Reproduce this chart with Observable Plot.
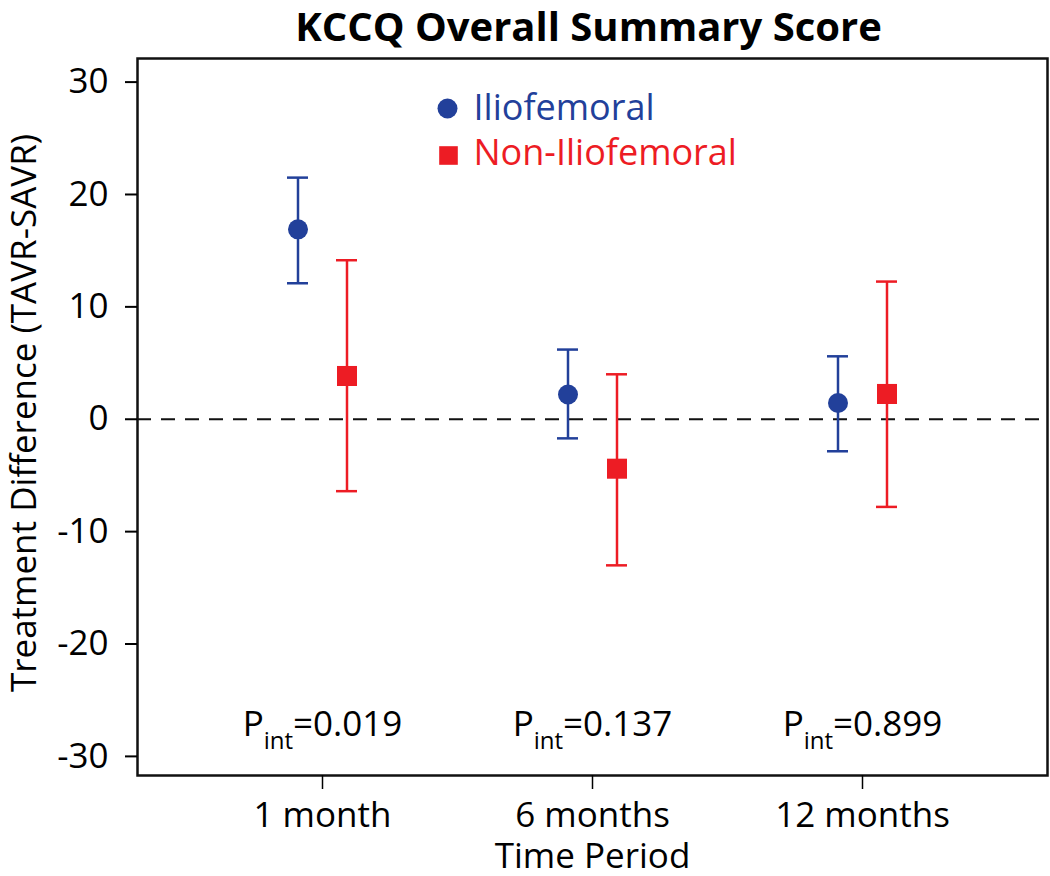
<!DOCTYPE html>
<html><head><meta charset="utf-8">
<script src="https://cdn.jsdelivr.net/npm/d3@7"></script>
<script src="https://cdn.jsdelivr.net/npm/@observablehq/plot@0.6"></script>
<style>body{margin:0;background:#fff;}</style>
</head><body><div id="chart"></div>
<script>
const periods = ["1 month", "6 months", "12 months"];
const groups = ["Iliofemoral", "Non-Iliofemoral"];
const ilioMean = [16.9, 2.2, 1.45];
const ilioLow = [12.1, -1.7, -2.85];
const ilioHigh = [21.5, 6.2, 5.6];
const nonMean = [3.85, -4.4, 2.25];
const nonLow = [-6.4, -13.0, -7.8];
const nonHigh = [14.15, 4.0, 12.25];
const pInt = ["0.019", "0.137", "0.899"];
const yTicks = [-30, -20, -10, 0, 10, 20, 30];
const colors = ["#22409a", "#ed1c24"];

const ilio = periods.map((p, i) => ({period: p, mean: ilioMean[i], lo: ilioLow[i], hi: ilioHigh[i]}));
const non = periods.map((p, i) => ({period: p, mean: nonMean[i], lo: nonLow[i], hi: nonHigh[i]}));

const capInset = 124.5;
const off = 24.5;
function errorMarks(data, color, dx, symbol, r) {
  return [
    Plot.ruleX(data, {x: "period", y1: "lo", y2: "hi", stroke: color, strokeWidth: 2.5, dx}),
    Plot.tickY(data, {x: "period", y: "hi", stroke: color, strokeWidth: 2.5, dx, insetLeft: capInset, insetRight: capInset}),
    Plot.tickY(data, {x: "period", y: "lo", stroke: color, strokeWidth: 2.5, dx, insetLeft: capInset, insetRight: capInset}),
    Plot.dot(data, {x: "period", y: "mean", fill: color, r, symbol, dx})
  ];
}

const svg = Plot.plot({
  width: 1050,
  height: 876,
  marginLeft: 137,
  marginRight: 3,
  marginTop: 58,
  marginBottom: 101,
  style: {fontFamily: "'Open Sans', 'Noto Sans', sans-serif", fontSize: "35px", background: "#fff"},
  x: {type: "band", domain: periods, paddingInner: 0, paddingOuter: 0.179},
  y: {domain: [-31.7, 32.1]},
  marks: [
    Plot.ruleY([0], {stroke: "#111", strokeWidth: 2, strokeDasharray: "14,10"}),
    ...errorMarks(ilio, colors[0], -off, "circle", 10),
    ...errorMarks(non, colors[1], off, "square", 11.3),
    Plot.frame({stroke: "#111", strokeWidth: 2.5}),
    Plot.axisY({ticks: yTicks, tickFormat: d => String(d), tickSize: 12, tickPadding: 17, fontSize: 35, label: null, strokeWidth: 2}),
    Plot.axisX({tickSize: 14, tickPadding: 13, fontSize: 35, label: null, strokeWidth: 1.5}),
    Plot.text(periods, {x: d => d, text: (d, i) => "P|int|=" + pInt[i], frameAnchor: "bottom", dy: -40, lineAnchor: "bottom", fontSize: 35}),
    // legend
    Plot.dot([groups[0]], {frameAnchor: "top-left", dx: 310, dy: 50, r: 10, fill: colors[0]}),
    Plot.dot([groups[1]], {frameAnchor: "top-left", dx: 311, dy: 97, r: 10.5, fill: colors[1], symbol: "square"}),
    Plot.text([groups[0]], {frameAnchor: "top-left", dx: 336, dy: 61, lineAnchor: "bottom", textAnchor: "start", fill: colors[0], fontSize: 36}),
    Plot.text([groups[1]], {frameAnchor: "top-left", dx: 336, dy: 106, lineAnchor: "bottom", textAnchor: "start", fill: colors[1], fontSize: 36}),
    // titles
    Plot.text(["KCCQ Overall Summary Score"], {frameAnchor: "top", dx: -4, dy: -18, lineAnchor: "bottom", textAnchor: "middle", fontSize: 40, fontWeight: "bold"}),
    Plot.text(["Treatment Difference (TAVR-SAVR)"], {frameAnchor: "left", rotate: -90, dx: -102, dy: -4, lineAnchor: "bottom", textAnchor: "middle", fontSize: 35}),
    Plot.text(["Time Period"], {frameAnchor: "bottom", dy: 92, lineAnchor: "bottom", textAnchor: "middle", fontSize: 35})
  ]
});

// subscript formatting for P_int labels
d3.select(svg).selectAll("text").each(function() {
  const t = this.textContent;
  if (t.includes("|")) {
    const parts = t.split("|");
    const sel = d3.select(this);
    sel.text(null);
    sel.append("tspan").text(parts[0]);
    sel.append("tspan").attr("dy", 13).attr("font-size", 24).text(parts[1]);
    sel.append("tspan").attr("dy", -13).text(parts[2]);
  }
});

document.getElementById("chart").appendChild(svg);
</script>
</body></html>
